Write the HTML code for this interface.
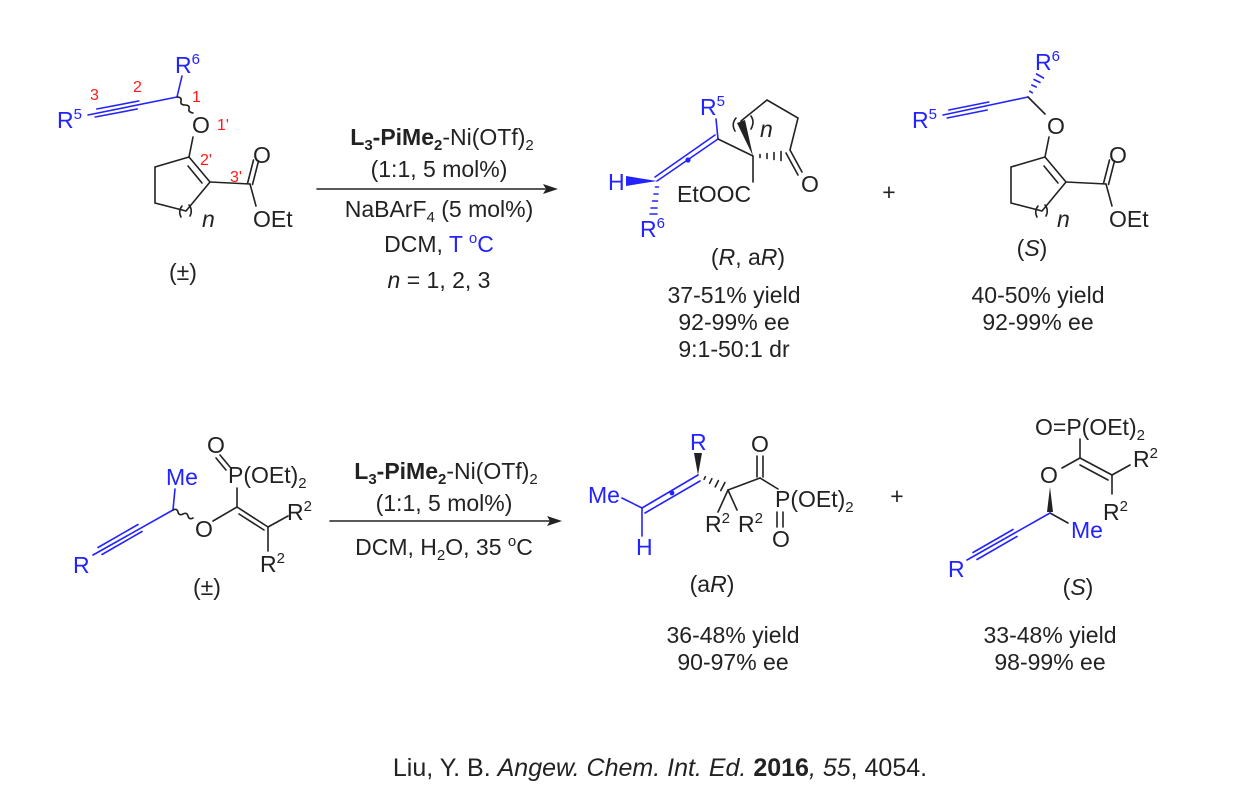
<!DOCTYPE html>
<html><head><meta charset="utf-8"><style>
html,body{margin:0;padding:0;background:#fff;}
svg{display:block;}
text{font-family:"Liberation Sans",Arial,sans-serif;font-size:23px;fill:#222;}
.b{fill:#2323ff;}
.r{fill:#ff1a1a;font-size:16px;}
.sup{font-size:15px;}
</style></head><body>
<svg width="1249" height="800" viewBox="0 0 1249 800" xmlns="http://www.w3.org/2000/svg">
<g fill="none" stroke-width="1.6" stroke-linecap="round">
<!-- ===== Top SM ===== -->
<g stroke="#2323ff">
<line x1="88" y1="115" x2="177" y2="97"/>
<line x1="96.8" y1="109" x2="138.8" y2="101"/>
<line x1="95.2" y1="117" x2="137.2" y2="109"/>
<line x1="177" y1="97" x2="182" y2="76"/>
</g>
<path d="M177 97 q5 0 4 4 q-1 4 4 4 q5 0 4 4 q-1 3 4 4" stroke="#222"/>
<g stroke="#222">
<line x1="193" y1="137" x2="189" y2="157"/>
<polyline points="189,157 210,182 186,211 155,203 155,167 189,157"/>
<line x1="188" y1="166" x2="202" y2="183"/>
<line x1="210" y1="182" x2="250" y2="184"/>
<line x1="247.5" y1="183.5" x2="253.5" y2="160"/>
<line x1="252.5" y1="184.5" x2="258.5" y2="161"/>
<line x1="250" y1="184" x2="256" y2="206"/>
<path d="M182 206 q-4 5 -1 11 M189 205 q4 5 1 11"/>
</g>
<!-- ===== Product 2 (S) top ===== -->
<g stroke="#2323ff">
<line x1="943" y1="115" x2="1028" y2="97"/>
<line x1="948.8" y1="110" x2="988.8" y2="102"/>
<line x1="947.2" y1="118" x2="987.2" y2="110"/>
<line x1="1029.7" y1="91.2" x2="1032.3" y2="92.8"/>
<line x1="1031.8" y1="85" x2="1036.2" y2="87"/>
<line x1="1034" y1="79.5" x2="1040" y2="82.5"/>
<line x1="1036.5" y1="74" x2="1043.5" y2="78"/>
</g>
<line x1="1028" y1="97" x2="1045" y2="114" stroke="#222"/>
<g stroke="#222" transform="translate(856,0)">
<line x1="193" y1="137" x2="189" y2="157"/>
<polyline points="189,157 210,182 186,211 155,203 155,167 189,157"/>
<line x1="188" y1="166" x2="202" y2="183"/>
<line x1="210" y1="182" x2="250" y2="184"/>
<line x1="247.5" y1="183.5" x2="253.5" y2="160"/>
<line x1="252.5" y1="184.5" x2="258.5" y2="161"/>
<line x1="250" y1="184" x2="256" y2="206"/>
<path d="M182 206 q-4 5 -1 11 M189 205 q4 5 1 11"/>
</g>
<!-- ===== Product 1 ===== -->
<g stroke="#2323ff">
<line x1="716" y1="119" x2="718" y2="139"/>
<line x1="718" y1="139" x2="657" y2="181"/>
<line x1="715" y1="135" x2="655" y2="177"/>
<line x1="655.5" y1="187" x2="658.5" y2="187"/>
<line x1="654" y1="194" x2="658" y2="194"/>
<line x1="652.5" y1="201" x2="657.5" y2="201"/>
<line x1="651" y1="208" x2="657" y2="208"/>
<line x1="650" y1="214" x2="657" y2="214"/>
</g>
<circle cx="688" cy="160" r="2.6" fill="#2323ff"/>
<polygon points="657,181 626,176 626,186" fill="#2323ff"/>
<g stroke="#222">
<line x1="718" y1="139" x2="753" y2="156"/>
<line x1="753" y1="156" x2="753" y2="182"/>
<polyline points="741,121 767,100 798,118 790,150"/>
<line x1="790" y1="150" x2="802" y2="172"/>
<line x1="786" y1="153" x2="798" y2="175"/>
<line x1="760" y1="154.5" x2="760" y2="157.5"/>
<line x1="767" y1="153.5" x2="767" y2="158.5"/>
<line x1="774" y1="152.5" x2="774" y2="159.5"/>
<line x1="781" y1="151.5" x2="781" y2="160.5"/>
<path d="M736 118 q-5 6 -1 13 M751 116 q4 6 0 13"/>
</g>
<polygon points="753,156 737,123 745,120" fill="#222"/>
<!-- ===== Bottom SM ===== -->
<g stroke="#2323ff">
<line x1="93" y1="555" x2="173" y2="510"/>
<line x1="102" y1="554.5" x2="142" y2="531.5"/>
<line x1="98" y1="547.5" x2="138" y2="524.5"/>
<line x1="173" y1="510" x2="175" y2="489"/>
</g>
<path d="M173 510 q4 -2 5 2 q1 4 5 2 q4 -2 5 2 q1 4 5 2" stroke="#222"/>
<g stroke="#222">
<line x1="213" y1="521" x2="237" y2="507"/>
<line x1="237" y1="507" x2="237" y2="488"/>
<line x1="216" y1="458" x2="226" y2="470"/>
<line x1="220" y1="455" x2="230" y2="467"/>
<line x1="237" y1="507" x2="268" y2="527"/>
<line x1="239" y1="514" x2="264" y2="530"/>
<line x1="268" y1="527" x2="288" y2="516"/>
<line x1="268" y1="527" x2="268" y2="551"/>
</g>
<!-- ===== Product 3 ===== -->
<g stroke="#2323ff">
<line x1="622" y1="498" x2="642" y2="508"/>
<line x1="642" y1="508" x2="642" y2="536"/>
<line x1="642" y1="508" x2="698" y2="475"/>
<line x1="645" y1="513" x2="700" y2="481"/>
</g>
<circle cx="672" cy="493" r="2.4" fill="#2323ff"/>
<polygon points="698,475 694,453 702,453" fill="#222"/>
<g stroke="#222">
<line x1="705.4" y1="476.7" x2="704.1" y2="479.3"/>
<line x1="711.9" y1="478.7" x2="709.6" y2="483.3"/>
<line x1="718.4" y1="480.6" x2="715.2" y2="486.9"/>
<line x1="724.9" y1="482.5" x2="720.8" y2="490.5"/>
<line x1="728" y1="490" x2="718" y2="512"/>
<line x1="728" y1="490" x2="737" y2="510"/>
<line x1="728" y1="490" x2="760" y2="478"/>
<line x1="757" y1="477" x2="757" y2="456"/>
<line x1="763" y1="477" x2="763" y2="456"/>
<line x1="760" y1="478" x2="778" y2="489"/>
<line x1="777" y1="512" x2="777" y2="527"/>
<line x1="783" y1="512" x2="783" y2="527"/>
</g>
<!-- ===== Product 4 ===== -->
<g stroke="#222">
<line x1="1080" y1="439" x2="1080" y2="458"/>
<line x1="1080" y1="458" x2="1062" y2="468"/>
<line x1="1080" y1="458" x2="1112" y2="475"/>
<line x1="1080" y1="465" x2="1108" y2="480"/>
<line x1="1112" y1="475" x2="1130" y2="465"/>
<line x1="1112" y1="475" x2="1112" y2="494"/>
<line x1="1050" y1="513" x2="1068" y2="523"/>
</g>
<polygon points="1050,487 1047,512 1053,512" fill="#222"/>
<g stroke="#2323ff">
<line x1="1050" y1="513" x2="967" y2="560"/>
<line x1="977" y1="559.5" x2="1017" y2="536.5"/>
<line x1="973" y1="552.5" x2="1013" y2="529.5"/>
</g>
<!-- arrows -->
<g stroke="#222">
<line x1="317" y1="189" x2="545" y2="189"/>
<line x1="330" y1="521" x2="552" y2="521"/>
</g>
</g>
<polygon points="558,189 543,184 546,189 543,194" fill="#222"/>
<polygon points="562,521 547,516 550,521 547,526" fill="#222"/>

<!-- ===== Text: Top SM ===== -->
<text x="57" y="128" class="b">R<tspan class="sup" dy="-9">5</tspan></text>
<text x="175" y="73" class="b">R<tspan class="sup" dy="-9">6</tspan></text>
<text x="90" y="100" class="r">3</text>
<text x="133" y="92" class="r">2</text>
<text x="192" y="102" class="r">1</text>
<text x="217" y="130" class="r">1'</text>
<text x="200" y="165" class="r">2'</text>
<text x="230" y="182" class="r">3'</text>
<text x="192" y="133">O</text>
<text x="253" y="163">O</text>
<text x="253" y="227">OEt</text>
<text x="202" y="227" font-style="italic">n</text>
<text x="183" y="280" text-anchor="middle">(±)</text>

<!-- Conditions top -->
<text x="442" y="145" text-anchor="middle"><tspan font-weight="bold">L<tspan class="sup" dy="5">3</tspan><tspan dy="-5">-PiMe</tspan><tspan class="sup" dy="5">2</tspan></tspan><tspan dy="-5">-Ni(OTf)</tspan><tspan class="sup" dy="5">2</tspan></text>
<text x="439" y="177" text-anchor="middle">(1:1, 5 mol%)</text>
<text x="439" y="217" text-anchor="middle">NaBArF<tspan class="sup" dy="5">4</tspan><tspan dy="-5"> (5 mol%)</tspan></text>
<text x="439" y="252" text-anchor="middle">DCM, <tspan class="b">T <tspan class="sup" dy="-9">o</tspan><tspan dy="9">C</tspan></tspan></text>
<text x="439" y="288" text-anchor="middle"><tspan font-style="italic">n</tspan> = 1, 2, 3</text>

<!-- Product 1 -->
<text x="700" y="115" class="b">R<tspan class="sup" dy="-9">5</tspan></text>
<text x="608" y="190" class="b">H</text>
<text x="640" y="237" class="b">R<tspan class="sup" dy="-9">6</tspan></text>
<text x="677" y="202">EtOOC</text>
<text x="801" y="192">O</text>
<text x="760" y="137" font-style="italic">n</text>
<text x="748" y="265" text-anchor="middle">(<tspan font-style="italic">R</tspan>, a<tspan font-style="italic">R</tspan>)</text>
<text x="734" y="303" text-anchor="middle">37-51% yield</text>
<text x="734" y="330" text-anchor="middle">92-99% ee</text>
<text x="734" y="357" text-anchor="middle">9:1-50:1 dr</text>
<text x="889" y="200" text-anchor="middle">+</text>

<!-- Product 2 -->
<text x="912" y="128" class="b">R<tspan class="sup" dy="-9">5</tspan></text>
<text x="1035" y="70" class="b">R<tspan class="sup" dy="-9">6</tspan></text>
<text x="1047" y="134">O</text>
<text x="1109" y="163">O</text>
<text x="1109" y="227">OEt</text>
<text x="1057" y="227" font-style="italic">n</text>
<text x="1032" y="256" text-anchor="middle">(<tspan font-style="italic">S</tspan>)</text>
<text x="1038" y="303" text-anchor="middle">40-50% yield</text>
<text x="1038" y="330" text-anchor="middle">92-99% ee</text>

<!-- Bottom SM -->
<text x="73" y="573" class="b">R</text>
<text x="166" y="485" class="b">Me</text>
<text x="195" y="537">O</text>
<text x="207" y="453">O</text>
<text x="228" y="483">P(OEt)<tspan class="sup" dy="5">2</tspan></text>
<text x="287" y="520">R<tspan class="sup" dy="-9">2</tspan></text>
<text x="260" y="572">R<tspan class="sup" dy="-9">2</tspan></text>
<text x="207" y="595" text-anchor="middle">(±)</text>

<!-- Conditions bottom -->
<text x="446" y="479" text-anchor="middle"><tspan font-weight="bold">L<tspan class="sup" dy="5">3</tspan><tspan dy="-5">-PiMe</tspan><tspan class="sup" dy="5">2</tspan></tspan><tspan dy="-5">-Ni(OTf)</tspan><tspan class="sup" dy="5">2</tspan></text>
<text x="444" y="511" text-anchor="middle">(1:1, 5 mol%)</text>
<text x="444" y="555" text-anchor="middle">DCM, H<tspan class="sup" dy="5">2</tspan><tspan dy="-5">O, 35 </tspan><tspan class="sup" dy="-9">o</tspan><tspan dy="9">C</tspan></text>

<!-- Product 3 -->
<text x="588" y="503" class="b">Me</text>
<text x="636" y="555" class="b">H</text>
<text x="690" y="450" class="b">R</text>
<text x="705" y="532">R<tspan class="sup" dy="-9">2</tspan></text>
<text x="738" y="532">R<tspan class="sup" dy="-9">2</tspan></text>
<text x="751" y="452">O</text>
<text x="775" y="507">P(OEt)<tspan class="sup" dy="5">2</tspan></text>
<text x="772" y="547">O</text>
<text x="897" y="504" text-anchor="middle">+</text>
<text x="712" y="592" text-anchor="middle">(a<tspan font-style="italic">R</tspan>)</text>
<text x="733" y="643" text-anchor="middle">36-48% yield</text>
<text x="733" y="670" text-anchor="middle">90-97% ee</text>

<!-- Product 4 -->
<text x="1035" y="435">O=P(OEt)<tspan class="sup" dy="5">2</tspan></text>
<text x="1040" y="483">O</text>
<text x="1133" y="467">R<tspan class="sup" dy="-9">2</tspan></text>
<text x="1103" y="520">R<tspan class="sup" dy="-9">2</tspan></text>
<text x="1071" y="538" class="b">Me</text>
<text x="948" y="577" class="b">R</text>
<text x="1078" y="595" text-anchor="middle">(<tspan font-style="italic">S</tspan>)</text>
<text x="1050" y="643" text-anchor="middle">33-48% yield</text>
<text x="1050" y="670" text-anchor="middle">98-99% ee</text>

<!-- citation -->
<text x="660" y="776" text-anchor="middle" style="font-size:25px">Liu, Y. B. <tspan font-style="italic">Angew. Chem. Int. Ed.</tspan> <tspan font-weight="bold">2016</tspan><tspan font-style="italic">, 55</tspan>, 4054.</text>
</svg>
</body></html>
